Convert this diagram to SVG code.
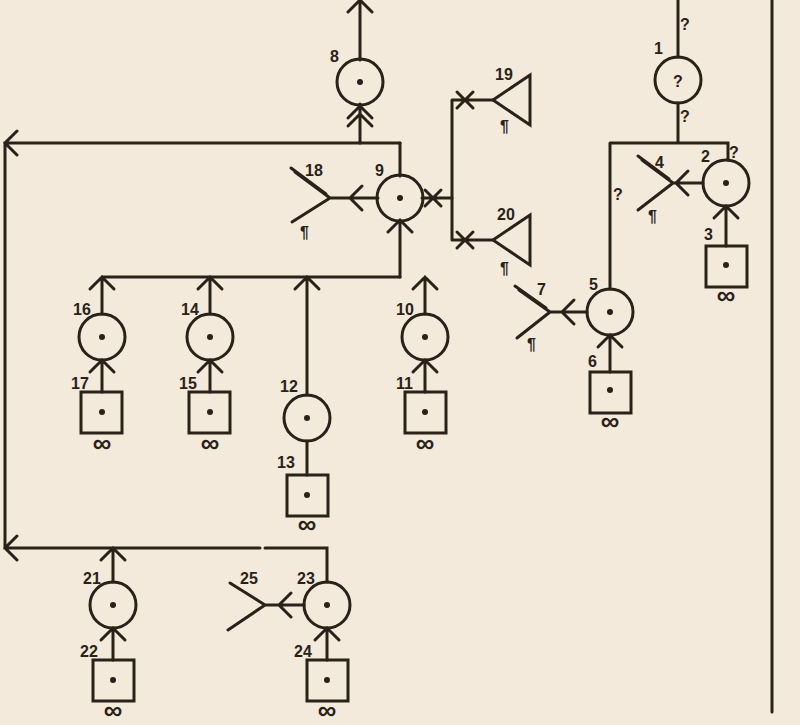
<svg xmlns="http://www.w3.org/2000/svg" width="800" height="725" viewBox="0 0 800 725">
<style>
.l{stroke:#2a2218;stroke-width:3;fill:none;stroke-linecap:round}
.n{stroke:#2a2218;stroke-width:3;fill:none}
.d{fill:#2a2218}
text{font-family:"Liberation Sans",Arial,sans-serif;font-weight:bold;font-size:16px;fill:#2a2218}
.inf{font-size:26px;text-anchor:middle}
</style>
<rect width="800" height="725" fill="#f3eadb"/>
<g id="connectors">
<path class="l" d="M360 60V0M348 12L360 0L372 12"/>
<path class="l" d="M360 104V143M348 118L360 106L372 118M348 126L360 114L372 126"/>
<path class="l" d="M400 143H5V548H260M17 131L5 143L17 155M17 536L5 548L17 560"/>
<path class="l" d="M400 143V176"/>
<path class="l" d="M378 198H330M362 186L350 198L362 210M330 198L292 222M330 198L295 172M326 194L291 168"/>
<path class="l" d="M422 198H452M425 190L441 206M425 206L441 190"/>
<path class="l" d="M452 100V240M452 100H493M452 240H493M457 92L473 108M457 108L473 92M457 232L473 248M457 248L473 232"/>
<path class="l" d="M493 100L530 75V125Z"/>
<path class="l" d="M493 240L530 215V265Z"/>
<path class="l" d="M400 220V277M388 232L400 220L412 232"/>
<path class="l" d="M102 277H400"/>
<path class="l" d="M102 277V314M90 289L102 277L114 289M102 360V392M90 372L102 360L114 372"/>
<path class="l" d="M210 277V314M198 289L210 277L222 289M210 360V392M198 372L210 360L222 372"/>
<path class="l" d="M307 277V395M295 289L307 277L319 289M307 441V475"/>
<path class="l" d="M425 277V314M413 289L425 277L437 289M425 360V392M413 372L425 360L437 372"/>
<path class="l" d="M113 548V582M101 560L113 548L125 560M113 628V660M101 640L113 628L125 640"/>
<path class="l" d="M265 548H327V582M327 628V660M315 640L327 628L339 640"/>
<path class="l" d="M304 605H265M291 593L279 605L291 617M265 605L230 583M265 605L228 630"/>
<path class="l" d="M678 57V0M678 103V143M610 143H728V160M610 143V289"/>
<path class="l" d="M703 183H673M688 171L676 183L688 195M673 183L638 210M673 183L642 160M669 179L638 156"/>
<path class="l" d="M726 206V246M714 218L726 206L738 218"/>
<path class="l" d="M587 312H550M574 300L562 312L574 324M550 312L517 338M550 312L519 290M546 308L515 286"/>
<path class="l" d="M610 335V372M598 347L610 335L622 347"/>
<path class="l" d="M772 0V712"/>
</g>
<g id="n8"><circle class="n" cx="360" cy="82" r="23"/><circle class="d" cx="360" cy="82" r="3"/><text x="330" y="62">8</text></g>
<g id="n9"><circle class="n" cx="400" cy="198" r="23"/><circle class="d" cx="400" cy="198" r="3"/><text x="375" y="176">9</text></g>
<g id="n18"><text x="305" y="176">18</text><text x="300" y="238">¶</text></g>
<g id="n19"><text x="495" y="80">19</text><text x="500" y="132">¶</text></g>
<g id="n20"><text x="497" y="220">20</text><text x="500" y="274">¶</text></g>
<g id="n16"><circle class="n" cx="102" cy="337" r="23"/><circle class="d" cx="102" cy="337" r="3"/><text x="73" y="315">16</text></g>
<g id="n17"><rect class="n" x="81" y="392" width="41" height="41"/><circle class="d" cx="102" cy="412" r="3"/><text x="71" y="389">17</text><text class="inf" x="102" y="452">∞</text></g>
<g id="n14"><circle class="n" cx="210" cy="337" r="23"/><circle class="d" cx="210" cy="337" r="3"/><text x="181" y="315">14</text></g>
<g id="n15"><rect class="n" x="189" y="392" width="41" height="41"/><circle class="d" cx="210" cy="412" r="3"/><text x="179" y="389">15</text><text class="inf" x="210" y="452">∞</text></g>
<g id="n12"><circle class="n" cx="307" cy="418" r="23"/><circle class="d" cx="307" cy="418" r="3"/><text x="280" y="392">12</text></g>
<g id="n13"><rect class="n" x="287" y="475" width="41" height="41"/><circle class="d" cx="307" cy="495" r="3"/><text x="277" y="468">13</text><text class="inf" x="307" y="533">∞</text></g>
<g id="n10"><circle class="n" cx="425" cy="337" r="23"/><circle class="d" cx="425" cy="337" r="3"/><text x="396" y="315">10</text></g>
<g id="n11"><rect class="n" x="405" y="392" width="41" height="41"/><circle class="d" cx="425" cy="412" r="3"/><text x="396" y="389">11</text><text class="inf" x="425" y="452">∞</text></g>
<g id="n21"><circle class="n" cx="113" cy="605" r="23"/><circle class="d" cx="113" cy="605" r="3"/><text x="83" y="584">21</text></g>
<g id="n22"><rect class="n" x="93" y="660" width="41" height="41"/><circle class="d" cx="113" cy="680" r="3"/><text x="80" y="657">22</text><text class="inf" x="113" y="719">∞</text></g>
<g id="n23"><circle class="n" cx="327" cy="605" r="23"/><circle class="d" cx="327" cy="605" r="3"/><text x="297" y="584">23</text></g>
<g id="n25"><text x="240" y="584">25</text></g>
<g id="n24"><rect class="n" x="307" y="660" width="41" height="41"/><circle class="d" cx="327" cy="680" r="3"/><text x="294" y="657">24</text><text class="inf" x="327" y="719">∞</text></g>
<g id="n1"><circle class="n" cx="678" cy="80" r="23"/><text x="678" y="87" text-anchor="middle" font-size="20">?</text><text x="654" y="54">1</text><text x="680" y="30">?</text><text x="680" y="122">?</text></g>
<g id="n2"><circle class="n" cx="726" cy="183" r="23"/><circle class="d" cx="726" cy="183" r="3"/><text x="701" y="162">2</text><text x="729" y="158">?</text></g>
<g id="n4"><text x="655" y="168">4</text><text x="648" y="222">¶</text></g>
<g id="n3"><rect class="n" x="706" y="246" width="41" height="41"/><circle class="d" cx="726" cy="265" r="3"/><text x="704" y="240">3</text><text class="inf" x="726" y="304">∞</text></g>
<g id="q5"><text x="613" y="200">?</text></g>
<g id="n5"><circle class="n" cx="610" cy="312" r="23"/><circle class="d" cx="610" cy="312" r="3"/><text x="589" y="290">5</text></g>
<g id="n7"><text x="537" y="295">7</text><text x="527" y="350">¶</text></g>
<g id="n6"><rect class="n" x="590" y="372" width="41" height="41"/><circle class="d" cx="610" cy="390" r="3"/><text x="588" y="367">6</text><text class="inf" x="610" y="430">∞</text></g>
</svg>
